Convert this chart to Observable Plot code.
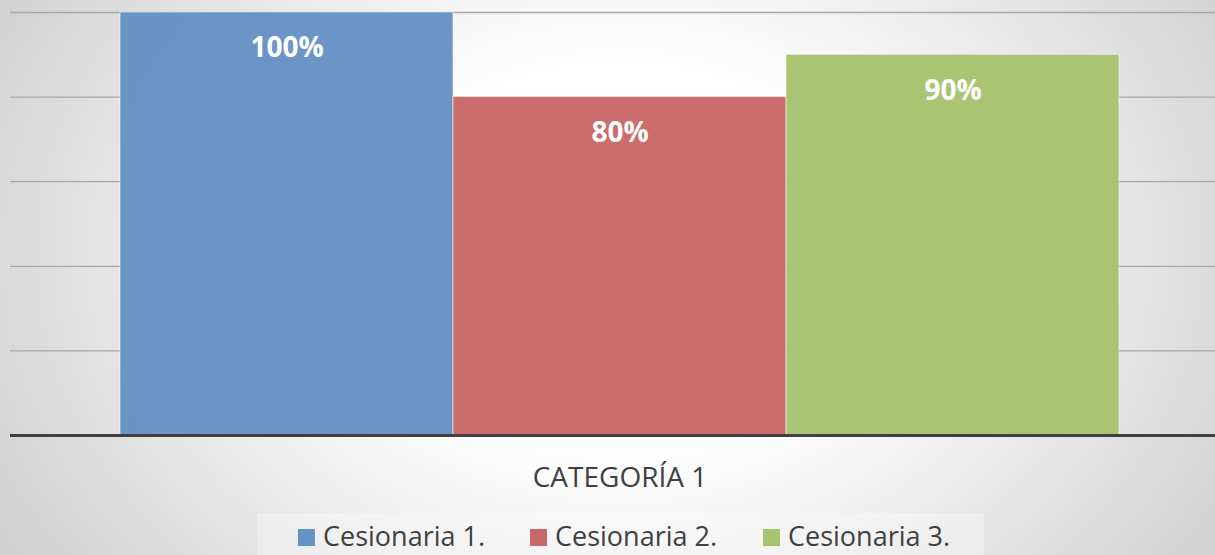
<!DOCTYPE html>
<html>
<head>
<meta charset="utf-8">
<script src="https://cdn.jsdelivr.net/npm/d3@7"></script>
<script src="https://cdn.jsdelivr.net/npm/@observablehq/plot@0.6"></script>
<style>
  html, body { margin: 0; padding: 0; }
  #wrap {
    position: relative; width: 1215px; height: 555px; overflow: hidden;
    background: radial-gradient(ellipse 650px 500px at 51% 46%, #ffffff 0%, #ffffff 38%, #ececec 68%, #dadada 95%, #c8c8c8 125%);
    font-family: "Open Sans", sans-serif;
  }
  #legend {
    position: absolute; left: 257px; top: 513px; width: 727px; height: 42px;
    background: rgba(255,255,255,0.3);
  }
  .item { position: absolute; top: 0; height: 42px; color: #404040; font-size: 27px; white-space: nowrap; }
  .sw { position: absolute; top: 16px; width: 17px; height: 17px; }
  .lbl { position: absolute; top: 9px; line-height: 27px; }
</style>
</head>
<body>
<div id="wrap"><div id="chart"></div><div id="legend"></div></div>
<script>
const category = "CATEGORÍA 1";
const series = ["Cesionaria 1.", "Cesionaria 2.", "Cesionaria 3."];
const values = [1.0, 0.8, 0.9];
const labels = ["100%", "80%", "90%"];
const colors = ["#6792c5", "#c96867", "#a6c36f"];
const gridTicks = [0.2, 0.4, 0.6, 0.8, 1.0];

const data = series.map((s, i) => ({series: s, value: values[i], label: labels[i]}));

const plot = Plot.plot({
  width: 1215,
  height: 513,
  marginTop: 12,
  marginBottom: 78,
  marginLeft: 10,
  marginRight: 0,
  style: {background: "transparent", fontFamily: "'Open Sans', sans-serif"},
  x: {domain: series, padding: 0, insetLeft: 109, insetRight: 95, axis: null},
  y: {domain: [0, 1], axis: null},
  color: {domain: series, range: colors},
  marks: [
    Plot.ruleY(gridTicks, {stroke: "#a8a8a8", strokeWidth: 1.3}),
    Plot.barY(data, {x: "series", y: "value", fill: "series", fillOpacity: 0.97, stroke: "#ffffff", strokeOpacity: 0.55, strokeWidth: 1}),
    Plot.text(data, {x: "series", y: "value", text: "label", dy: 36, fill: "white", fontWeight: "bold", fontSize: 28}),
    Plot.ruleY([0], {stroke: "#404040", strokeWidth: 3}),
    Plot.text([category], {frameAnchor: "bottom", lineAnchor: "middle", dx: 7, dy: 43, fill: "#404040", fontSize: 28})
  ]
});
document.getElementById("chart").appendChild(plot);

const legend = document.getElementById("legend");
const itemX = [41, 273, 506];
series.forEach((s, i) => {
  const it = document.createElement("div");
  it.className = "item";
  it.style.left = itemX[i] + "px";
  it.innerHTML = `<div class="sw" style="left:0;background:${colors[i]}"></div><div class="lbl" style="left:25px">${s}</div>`;
  legend.appendChild(it);
});
</script>
</body>
</html>
